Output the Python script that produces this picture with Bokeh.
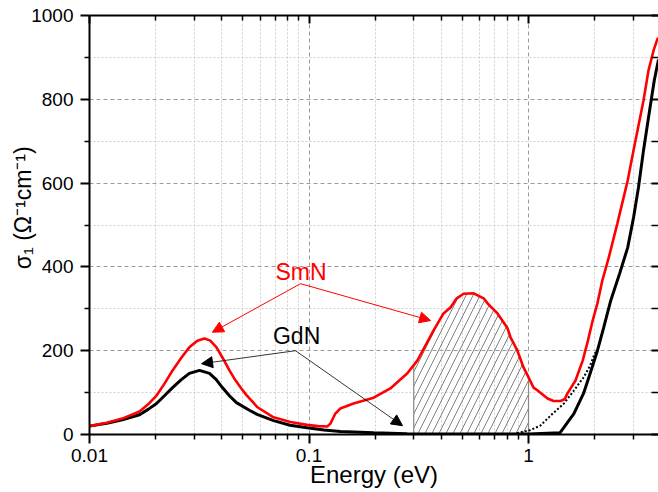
import numpy as np
from bokeh.plotting import figure
from bokeh.models import (Range1d, FixedTicker, LogAxis, LinearAxis, Label, Arrow,
                          NormalHead, CustomJSTickFormatter)
from bokeh.embed import file_html
from bokeh.resources import INLINE

# ---- data ----
smn_x = [0.010, 0.0120, 0.0141, 0.0169, 0.0185, 0.0202, 0.0220, 0.0239, 0.0262, 0.0285,
         0.0310, 0.0334, 0.0355, 0.0379, 0.0405, 0.0434, 0.0460, 0.0488, 0.0519, 0.0583,
         0.0689, 0.0823, 0.098, 0.110, 0.121, 0.1252,
         0.1318, 0.1389, 0.1595, 0.197, 0.2348, 0.2806, 0.312, 0.369, 0.41, 0.441,
         0.471, 0.506, 0.562, 0.625, 0.651, 0.722, 0.80, 0.828, 0.89, 0.949, 0.99,
         1.054, 1.10, 1.221, 1.30, 1.399, 1.46, 1.505, 1.637, 1.767, 1.865, 1.96,
         2.06, 2.17, 2.32, 2.54, 2.83, 3.008, 3.341, 3.521, 3.711, 3.87, 3.91]
smn_y = [20, 28, 38, 55, 72, 93, 122, 153, 183, 208,
         224, 229, 224, 208, 182, 153, 131, 112, 94, 65,
         41, 30, 23, 20, 19, 26,
         50, 62, 74, 88, 110, 146, 177, 248, 289, 303,
         325, 336, 337, 325, 313, 289, 255, 232, 200, 160, 141,
         112, 105, 86, 80, 80, 84, 98, 129, 177, 224, 272,
         313, 368, 422, 504, 606, 678, 797, 869, 916, 945, 945]

gdn_x = [0.010, 0.0120, 0.0141, 0.0169, 0.0185, 0.0202, 0.0220, 0.0239, 0.0262, 0.0285,
         0.0317, 0.0352, 0.0378, 0.0403, 0.0435, 0.0467,
         0.0535, 0.058, 0.069, 0.082, 0.098, 0.117, 0.139, 0.197, 0.28, 0.5,
         1.0, 1.39, 1.45, 1.61, 1.781, 1.91, 2.06, 2.20, 2.37, 2.60, 2.83, 3.01, 3.17,
         3.341, 3.56, 3.74, 3.91]
gdn_y = [20, 27, 35, 47, 60, 74, 93, 112, 131, 146,
         153, 146, 131, 112, 92, 76,
         58, 48, 33, 22, 16, 11, 7, 4, 2, 1,
         1, 4, 17, 50, 98, 146, 200, 255, 320, 384, 446, 518, 590,
         678, 773, 845, 895]

gdn_dot_x = [0.85, 0.915, 1.013, 1.13, 1.29, 1.45, 1.61, 1.78, 1.91, 2.0, 2.06]
gdn_dot_y = [1, 5, 10, 21, 50, 74, 105, 136, 165, 193, 200]

x_major = [0.01, 0.1, 1]
x_minor = [0.02, 0.03, 0.04, 0.05, 0.06, 0.07, 0.08, 0.09,
           0.2, 0.3, 0.4, 0.5, 0.6, 0.7, 0.8, 0.9, 2, 3]
y_major = [0, 200, 400, 600, 800, 1000]
y_minor = [100, 300, 500, 700, 900]

band_lo, band_hi = 0.3, 1.0

FONT = "Liberation Sans"

p = figure(width=658, height=492, x_axis_type="log",
           x_range=Range1d(0.01, 3.91), y_range=Range1d(0, 1000),
           output_backend="svg", toolbar_location=None,
           min_border_left=89, min_border_right=0, min_border_top=15, min_border_bottom=58)
p.outline_line_color = None
p.background_fill_color = "white"
p.border_fill_color = "white"

xt = FixedTicker(ticks=x_major, minor_ticks=x_minor)
yt = FixedTicker(ticks=y_major, minor_ticks=y_minor)
fmt = CustomJSTickFormatter(code="return String(parseFloat(tick.toPrecision(6)));")
blank = CustomJSTickFormatter(code="return '';")

xa = p.xaxis[0]
xa.ticker = xt
xa.formatter = fmt
ya = p.yaxis[0]
ya.ticker = yt

for ax in (xa, ya):
    ax.axis_line_width = 2
    ax.major_tick_line_width = 2
    ax.minor_tick_line_width = 1.5
    ax.major_tick_out = 9
    ax.major_tick_in = 0
    ax.minor_tick_out = 5
    ax.minor_tick_in = 0
    ax.major_label_text_font = FONT
    ax.major_label_text_font_size = "19px"
    ax.major_label_text_color = "black"
    ax.major_label_standoff = 7
    ax.axis_label_text_font = FONT
    ax.axis_label_text_font_style = "normal"
    ax.axis_label_text_color = "black"

xa.major_label_standoff = 5
xa.axis_label = "Energy (eV)"
xa.axis_label_text_font_size = "24px"
xa.axis_label_standoff = -4
ya.axis_label = "\u2002\u2002\u2002σ₁ (Ω⁻¹cm⁻¹)"
ya.axis_label_text_font_size = "23px"
ya.axis_label_standoff = -8

top = LogAxis(ticker=xt, formatter=blank, major_label_text_font_size="1px",
              major_label_standoff=0, major_tick_in=8, major_tick_out=0,
              minor_tick_in=5, minor_tick_out=0, axis_line_width=2,
              major_tick_line_width=2, minor_tick_line_width=1.5)
p.add_layout(top, "above")
right = LinearAxis(ticker=yt, formatter=blank, major_label_text_font_size="1px",
                   major_label_standoff=0, major_tick_in=7, major_tick_out=0,
                   minor_tick_in=7, minor_tick_out=0, axis_line_color=None,
                   major_tick_line_width=2, minor_tick_line_width=1.5)
p.add_layout(right, "right")

p.xgrid.ticker = xt
p.ygrid.ticker = yt
for g in (p.xgrid[0], p.ygrid[0]):
    g.grid_line_color = "#9a9a9a"
    g.grid_line_dash = "4 3"
    g.grid_line_width = 1
    g.minor_grid_line_color = "#cfcfcf"
    g.minor_grid_line_dash = "2 2"
    g.minor_grid_line_width = 1

# hatched band under SmN between 0.3 and 1 eV
lx = np.log10(smn_x)
inner = [x for x in smn_x if band_lo < x < band_hi]
bx = np.array([band_lo] + inner + [band_hi])
by = np.interp(np.log10(bx), lx, smn_y)
p.varea(x=bx, y1=0, y2=by, fill_color=None, hatch_pattern="/",
        hatch_color="#808080", hatch_scale=14, hatch_weight=1)
p.segment(x0=[band_lo, band_hi], y0=[0, 0], x1=[band_lo, band_hi], y1=[by[0], by[-1]],
          line_color="#888888", line_width=1.2)

p.line(gdn_dot_x, gdn_dot_y, line_color="black", line_width=2, line_dash="2 2")
p.line(gdn_x, gdn_y, line_color="black", line_width=3)
p.line(smn_x, smn_y, line_color="#ff0000", line_width=2.6)

# annotations
p.add_layout(Label(x=0.092, y=388, text="SmN", text_color="#ff0000", text_font=FONT,
                   text_font_size="23px", text_align="center", text_baseline="alphabetic"))
p.add_layout(Label(x=0.0878, y=235, text="GdN", text_color="black", text_font=FONT,
                   text_font_size="23px", text_align="center", text_baseline="alphabetic"))

for (xs, ys, xe, ye) in [(0.0915, 360, 0.0363, 244), (0.0915, 360, 0.358, 272)]:
    p.add_layout(Arrow(end=NormalHead(size=11, fill_color="#ff0000", line_color="#ff0000"),
                       x_start=xs, y_start=ys, x_end=xe, y_end=ye,
                       line_color="#ff0000", line_width=1))
for (xs, ys, xe, ye) in [(0.0868, 200, 0.0324, 169), (0.0868, 200, 0.2667, 21)]:
    p.add_layout(Arrow(end=NormalHead(size=11, fill_color="black", line_color="black"),
                       x_start=xs, y_start=ys, x_end=xe, y_end=ye,
                       line_color="black", line_width=0.8))

open("out.html", "w").write(file_html(p, INLINE))
